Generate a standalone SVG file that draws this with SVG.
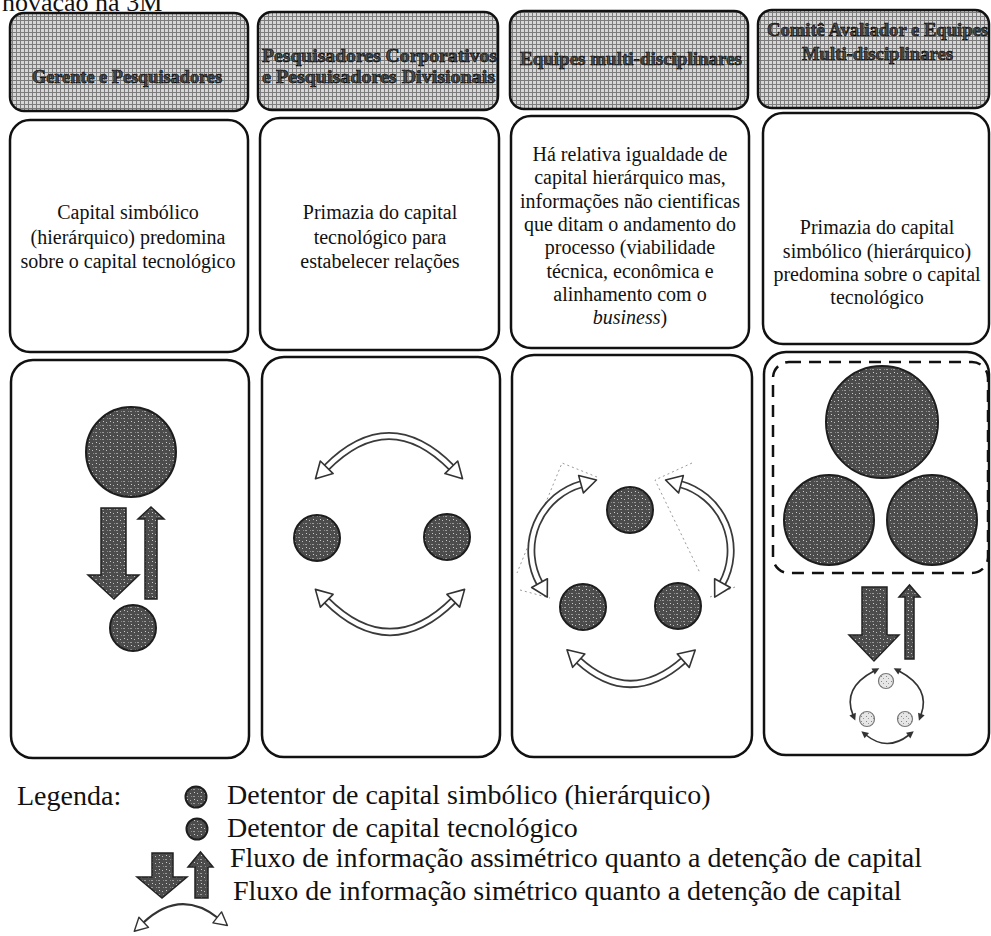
<svg xmlns="http://www.w3.org/2000/svg" width="991" height="936" viewBox="0 0 991 936">
<defs>
  <pattern id="hatch" width="4" height="4" patternUnits="userSpaceOnUse">
    <rect width="4" height="4" fill="#d6d6d6"/>
    <path d="M0,0.5H4M0.5,0V4" stroke="#7c7c7c" stroke-width="1"/>
  </pattern>
  <pattern id="speck" width="7" height="7" patternUnits="userSpaceOnUse">
    <rect width="7" height="7" fill="#4c4c4c"/>
    <rect x="1" y="2" width="1" height="1" fill="#bdbdbd"/>
    <rect x="4" y="5" width="2" height="1" fill="#9a9a9a"/>
    <rect x="5" y="1" width="1" height="1" fill="#cfcfcf"/>
    <rect x="2" y="5" width="1" height="1" fill="#8a8a8a"/>
  </pattern>
  <pattern id="speckL" width="5" height="5" patternUnits="userSpaceOnUse">
    <rect width="5" height="5" fill="#e6e6e6"/>
    <rect x="1" y="1" width="1" height="1" fill="#888"/>
    <rect x="3" y="3" width="1" height="1" fill="#999"/>
  </pattern>
  <marker id="oh" viewBox="-2 -11 22 22" markerWidth="22" markerHeight="22" refX="1" refY="0" orient="auto-start-reverse" markerUnits="userSpaceOnUse">
    <path d="M0,-9 L16,0 L0,9 Z" fill="#fff" stroke="#333" stroke-width="1.6" stroke-linejoin="round"/>
  </marker>
  <marker id="oh2" viewBox="-2 -9 18 18" markerWidth="18" markerHeight="18" refX="1" refY="0" orient="auto-start-reverse" markerUnits="userSpaceOnUse">
    <path d="M0,-7 L13,0 L0,7 Z" fill="#fff" stroke="#333" stroke-width="1.4" stroke-linejoin="round"/>
  </marker>
  <marker id="sh" viewBox="-1 -5 9 10" markerWidth="9" markerHeight="10" refX="1" refY="0" orient="auto-start-reverse" markerUnits="userSpaceOnUse">
    <path d="M0,-3.5 L7,0 L0,3.5 Z" fill="#333"/>
  </marker>
</defs>
<style>
.box{fill:#fff;stroke:#111;stroke-width:2.5}
.hdr{fill:url(#hatch);stroke:#111;stroke-width:2.5}
.ht{font-family:"Liberation Serif",serif;font-weight:bold;font-size:19px;fill:#4a4a4a;stroke:#000;stroke-width:0.6;text-anchor:middle}
.bt{font-family:"Liberation Serif",serif;font-size:20px;fill:#111;text-anchor:middle}
.lt{font-family:"Liberation Serif",serif;font-size:28px;fill:#111}
.dot{fill:url(#speck);stroke:#1e1e1e;stroke-width:2}
.dotL{fill:url(#speckL);stroke:#777;stroke-width:1.2}
.blk{fill:url(#speck);stroke:#222;stroke-width:1.5}
.arcO{fill:none;stroke:#3a3a3a;stroke-width:8}
.arcI{fill:none;stroke:#fff;stroke-width:4.5;marker-start:url(#oh);marker-end:url(#oh)}
.thin{fill:none;stroke:#333;stroke-width:1.6;marker-start:url(#sh);marker-end:url(#sh)}
.sel{fill:none;stroke:#9a9a9a;stroke-width:1;stroke-dasharray:2 3}
</style>
<rect width="991" height="936" fill="#fff"/>
<text class="lt" x="2" y="11" style="font-size:26px">novação na 3M</text>

<g id="col1-header">
  <rect class="hdr" x="10" y="13" width="238" height="98" rx="14"/>
  <text class="ht" x="127" y="83" textLength="190" lengthAdjust="spacingAndGlyphs">Gerente e Pesquisadores</text>
</g>
<g id="col2-header">
  <rect class="hdr" x="258" y="12" width="240" height="98" rx="14"/>
  <text class="ht" x="379.5" y="62" textLength="235" lengthAdjust="spacingAndGlyphs">Pesquisadores Corporativos</text>
  <text class="ht" x="378.5" y="83" textLength="233" lengthAdjust="spacingAndGlyphs">e Pesquisadores Divisionais</text>
</g>
<g id="col3-header">
  <rect class="hdr" x="510" y="11" width="238" height="98" rx="14"/>
  <text class="ht" x="631" y="65" textLength="222" lengthAdjust="spacingAndGlyphs">Equipes multi-disciplinares</text>
</g>
<g id="col4-header">
  <rect class="hdr" x="758" y="10" width="231" height="98" rx="14"/>
  <text class="ht" x="877.5" y="36" textLength="221" lengthAdjust="spacingAndGlyphs">Comitê Avaliador e Equipes</text>
  <text class="ht" x="877.5" y="60" textLength="151" lengthAdjust="spacingAndGlyphs">Multi-disciplinares</text>
</g>

<g id="col1-text">
  <rect class="box" x="10" y="120" width="238" height="232" rx="20"/>
  <text class="bt" x="128" y="219">Capital simbólico</text>
  <text class="bt" x="128" y="244">(hierárquico) predomina</text>
  <text class="bt" x="128" y="268">sobre o capital tecnológico</text>
</g>
<g id="col2-text">
  <rect class="box" x="260" y="118" width="239" height="232" rx="20"/>
  <text class="bt" x="380" y="219">Primazia do capital</text>
  <text class="bt" x="380" y="244">tecnológico para</text>
  <text class="bt" x="380" y="268">estabelecer relações</text>
</g>
<g id="col3-text">
  <rect class="box" x="511" y="116" width="238" height="232" rx="20"/>
  <text class="bt" x="630" y="161">Há relativa igualdade de</text>
  <text class="bt" x="630" y="184">capital hierárquico mas,</text>
  <text class="bt" x="630" y="208">informações não cientificas</text>
  <text class="bt" x="630" y="231">que ditam o andamento do</text>
  <text class="bt" x="630" y="254">processo (viabilidade</text>
  <text class="bt" x="630" y="278">técnica, econômica e</text>
  <text class="bt" x="630" y="301">alinhamento com o</text>
  <text class="bt" x="630" y="324"><tspan font-style="italic">business</tspan>)</text>
</g>
<g id="col4-text">
  <rect class="box" x="763" y="113" width="226" height="231" rx="20"/>
  <text class="bt" x="877" y="234">Primazia do capital</text>
  <text class="bt" x="877" y="258">simbólico (hierárquico)</text>
  <text class="bt" x="877" y="281">predomina sobre o capital</text>
  <text class="bt" x="877" y="304">tecnológico</text>
</g>

<g id="col1-diagram">
  <rect class="box" x="11" y="360" width="238" height="398" rx="22"/>
  <circle class="dot" cx="131" cy="452" r="45"/>
  <circle class="dot" cx="133" cy="628" r="23"/>
</g>
<g id="col2-diagram">
  <rect class="box" x="262" y="357" width="238" height="400" rx="22"/>
  <circle class="dot" cx="317" cy="538" r="23"/>
  <circle class="dot" cx="447" cy="537" r="23"/>
</g>
<g id="col3-diagram">
  <rect class="box" x="512" y="355" width="240" height="402" rx="22"/>
  <circle class="dot" cx="630" cy="510" r="23"/>
  <circle class="dot" cx="583" cy="607" r="23"/>
  <circle class="dot" cx="678" cy="606" r="23"/>
  <path class="sel" d="M597,477 L562,463 L517,573 M520,590 L550,598 M692,463 L655,480 L700,573 M710,597 L735,587"/>
</g>
<g id="col4-diagram">
  <rect class="box" x="764" y="352" width="225" height="403" rx="22"/>
  <rect x="773" y="362" width="215" height="211" rx="16" fill="none" stroke="#111" stroke-width="2.5" stroke-dasharray="12 8"/>
  <circle class="dot" cx="882" cy="422" r="56"/>
  <circle class="dot" cx="829" cy="520" r="45"/>
  <circle class="dot" cx="932" cy="520" r="45"/>
  <circle class="dotL" cx="886" cy="681" r="7.5"/>
  <circle class="dotL" cx="867" cy="719" r="7.5"/>
  <circle class="dotL" cx="905" cy="719" r="7.5"/>
</g>

<g id="flows">
  <polygon class="blk" points="101,508 126,508 126,575 139,575 114,599 88,575 101,575"/>
  <polygon class="blk" points="145,599 157,599 157,519 164,519 151,507 138,519 145,519"/>

  <path class="arcO" d="M326,468 Q389,404 452,468"/>
  <path class="arcI" d="M326,468 Q389,404 452,468"/>
  <path class="arcO" d="M326,600 Q390,664 454,600"/>
  <path class="arcI" d="M326,600 Q390,664 454,600"/>

  <path class="arcO" d="M582,484 A69,69 0 0 0 540,584"/>
  <path class="arcI" d="M582,484 A69,69 0 0 0 540,584"/>
  <path class="arcO" d="M680,484 A69,69 0 0 1 722,584"/>
  <path class="arcI" d="M680,484 A69,69 0 0 1 722,584"/>
  <path class="arcO" d="M578,660 Q630,708 684,660"/>
  <path class="arcI" d="M578,660 Q630,708 684,660"/>

  <polygon class="blk" points="862,587 887,587 887,635 899,635 874,661 849,635 862,635"/>
  <polygon class="blk" points="905,659 914,659 914,597 920,597 909.5,585 899,597 905,597"/>
  <path class="thin" d="M874,671 Q842,688 853,715"/>
  <path class="thin" d="M899,671 Q931,688 921,715"/>
  <path class="thin" d="M866,735 Q887,752 909,735"/>
</g>

<g id="legend">
  <text class="lt" x="17" y="805">Legenda:</text>
  <circle class="dot" cx="196" cy="797" r="10.5"/>
  <text class="lt" x="227" y="804">Detentor de capital simbólico (hierárquico)</text>
  <circle class="dot" cx="197" cy="829" r="10.5"/>
  <text class="lt" x="227" y="837">Detentor de capital tecnológico</text>
  <polygon class="blk" points="152,853 173,853 173,877 187,877 162,898 137,877 152,877"/>
  <polygon class="blk" points="195,898 208,898 208,867 213,867 200.5,852 188,867 195,867"/>
  <text class="lt" x="230" y="867">Fluxo de informação assimétrico quanto a detenção de capital</text>
  <path d="M143,923 Q180,888 218,918" fill="none" stroke="#333" stroke-width="2.2" marker-start="url(#oh2)" marker-end="url(#oh2)"/>
  <text class="lt" x="233" y="900">Fluxo de informação simétrico quanto a detenção de capital</text>
</g>
</svg>
